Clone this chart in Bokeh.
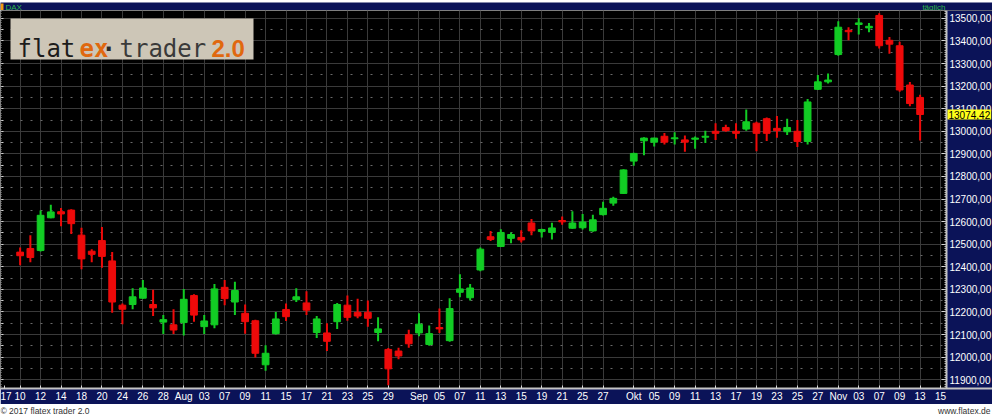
from bokeh.plotting import figure
from bokeh.models import ColumnDataSource, FixedTicker, Range1d, Label, BoxAnnotation, LinearAxis
from bokeh.layouts import column
from bokeh.embed import file_html
from bokeh.resources import INLINE

# ---------------- data (DAX daily candles) ----------------
dates = [
    "2017-07-10", "2017-07-11", "2017-07-12", "2017-07-13", "2017-07-14", "2017-07-17", "2017-07-18",
    "2017-07-19", "2017-07-20", "2017-07-21", "2017-07-24", "2017-07-25", "2017-07-26", "2017-07-27",
    "2017-07-28", "2017-07-31", "2017-08-01", "2017-08-02", "2017-08-03", "2017-08-04", "2017-08-07",
    "2017-08-08", "2017-08-09", "2017-08-10", "2017-08-11", "2017-08-14", "2017-08-15", "2017-08-16",
    "2017-08-17", "2017-08-18", "2017-08-21", "2017-08-22", "2017-08-23", "2017-08-24", "2017-08-25",
    "2017-08-28", "2017-08-29", "2017-08-30", "2017-08-31", "2017-09-01", "2017-09-04", "2017-09-05",
    "2017-09-06", "2017-09-07", "2017-09-08", "2017-09-11", "2017-09-12", "2017-09-13", "2017-09-14",
    "2017-09-15", "2017-09-18", "2017-09-19", "2017-09-20", "2017-09-21", "2017-09-22", "2017-09-25",
    "2017-09-26", "2017-09-27", "2017-09-28", "2017-09-29", "2017-10-02", "2017-10-04", "2017-10-05",
    "2017-10-06", "2017-10-09", "2017-10-10", "2017-10-11", "2017-10-12", "2017-10-13", "2017-10-16",
    "2017-10-17", "2017-10-18", "2017-10-19", "2017-10-20", "2017-10-23", "2017-10-24", "2017-10-25",
    "2017-10-26", "2017-10-27", "2017-10-30", "2017-11-01", "2017-11-02", "2017-11-03", "2017-11-06",
    "2017-11-07", "2017-11-08", "2017-11-09", "2017-11-10", "2017-11-13",
]
opens = [
    12465, 12481, 12472, 12617, 12644, 12651, 12540, 12469, 12516, 12426, 12230, 12233, 12261, 12233,
    12155, 12143, 12153, 12273, 12135, 12143, 12309, 12244, 12194, 12161, 11966, 12104, 12211, 12254,
    12240, 12109, 12107, 12157, 12230, 12198, 12198, 12109, 12034, 12027, 12099, 12107, 12056, 12131,
    12073, 12287, 12263, 12386, 12533, 12490, 12526, 12530, 12594, 12556, 12552, 12605, 12571, 12573,
    12559, 12631, 12682, 12725, 12868, 12958, 12952, 12978, 12967, 12962, 12965, 12974, 13000, 13017,
    13000, 13010, 13036, 13056, 13013, 12998, 13000, 12955, 13186, 13219, 13340, 13447, 13473, 13458,
    13513, 13403, 13379, 13205, 13150,
]
highs = [
    12485, 12540, 12649, 12675, 12660, 12655, 12573, 12478, 12576, 12465, 12237, 12305, 12342, 12298,
    12186, 12212, 12302, 12278, 12186, 12324, 12342, 12334, 12233, 12165, 12053, 12200, 12237, 12305,
    12292, 12182, 12150, 12240, 12273, 12259, 12251, 12176, 12040, 12042, 12121, 12194, 12140, 12215,
    12261, 12367, 12324, 12485, 12559, 12566, 12552, 12562, 12612, 12569, 12595, 12623, 12646, 12634,
    12631, 12688, 12710, 12832, 12905, 12974, 12972, 12993, 12996, 12981, 12977, 13003, 13036, 13029,
    13036, 13097, 13042, 13061, 13068, 13056, 13050, 13143, 13249, 13256, 13487, 13461, 13501, 13480,
    13523, 13418, 13397, 13218, 13162,
]
lows = [
    12407, 12420, 12468, 12615, 12579, 12545, 12389, 12420, 12396, 12196, 12146, 12212, 12259, 12182,
    12102, 12102, 12096, 12157, 12102, 12128, 12230, 12186, 12104, 11998, 11940, 12100, 12160, 12244,
    12186, 12085, 12027, 12125, 12161, 12172, 12135, 12070, 11875, 11991, 12042, 12092, 12050, 12107,
    12068, 12265, 12251, 12380, 12514, 12488, 12504, 12508, 12540, 12530, 12521, 12586, 12568, 12565,
    12555, 12627, 12670, 12722, 12848, 12894, 12933, 12942, 12942, 12909, 12923, 12948, 12962, 12998,
    12967, 13003, 12912, 12957, 12971, 12984, 12931, 12942, 13183, 13212, 13335, 13403, 13429, 13439,
    13367, 13343, 13175, 13111, 12959,
]
closes = [
    12449, 12441, 12628, 12643, 12634, 12591, 12435, 12455, 12446, 12244, 12212, 12267, 12306, 12218,
    12166, 12120, 12256, 12186, 12160, 12302, 12259, 12295, 12157, 12017, 12017, 12169, 12179, 12267,
    12208, 12169, 12070, 12233, 12176, 12182, 12172, 12125, 11948, 12005, 12059, 12146, 12104, 12125,
    12215, 12302, 12306, 12478, 12521, 12552, 12543, 12519, 12559, 12565, 12572, 12599, 12594, 12598,
    12608, 12659, 12703, 12829, 12902, 12970, 12970, 12952, 12971, 12952, 12970, 12978, 12991, 13003,
    12991, 13042, 12991, 12991, 13003, 13017, 12955, 13130, 13219, 13227, 13461, 13441, 13480, 13465,
    13379, 13386, 13183, 13123, 13074.42,
]
# trading days after the last candle that still appear on the time axis
future_dates = ["2017-11-14", "2017-11-15"]

year_label = "17"
x_tick_dates = [
    "2017-07-10", "2017-07-12", "2017-07-14", "2017-07-18", "2017-07-20", "2017-07-24", "2017-07-26",
    "2017-07-28", "2017-08-01", "2017-08-03", "2017-08-07", "2017-08-09", "2017-08-11", "2017-08-15",
    "2017-08-17", "2017-08-21", "2017-08-23", "2017-08-25", "2017-08-29", "2017-09-01", "2017-09-05",
    "2017-09-07", "2017-09-11", "2017-09-13", "2017-09-15", "2017-09-19", "2017-09-21", "2017-09-25",
    "2017-09-27", "2017-10-02", "2017-10-05", "2017-10-09", "2017-10-11", "2017-10-13", "2017-10-17",
    "2017-10-19", "2017-10-23", "2017-10-25", "2017-10-27", "2017-11-01", "2017-11-03", "2017-11-07",
    "2017-11-09", "2017-11-13", "2017-11-15",
]
x_tick_labels = [
    "10", "12", "14", "18", "20", "24", "26", "28", "Aug", "03", "07", "09", "11", "15", "17", "21",
    "23", "25", "29", "Sep", "05", "07", "11", "13", "15", "19", "21", "25", "27", "Okt", "05", "09",
    "11", "13", "17", "19", "23", "25", "27", "Nov", "03", "07", "09", "13", "15",
]
y_ticks = [11900, 12000, 12100, 12200, 12300, 12400, 12500, 12600, 12700, 12800, 12900,
           13000, 13100, 13200, 13300, 13400, 13500]
y_tick_labels = ["11900,00", "12000,00", "12100,00", "12200,00", "12300,00", "12400,00",
                 "12500,00", "12600,00", "12700,00", "12800,00", "12900,00", "13000,00",
                 "13100,00", "13200,00", "13300,00", "13400,00", "13500,00"]
instrument = "DAX"
period = "täglich"
copyright_text = "© 2017 flatex trader 2.0"
site_text = "www.flatex.de"

# ---------------- styling / layout ----------------
NAVY = "#0b1358"
GREEN = "#12cc24"
RED = "#ee0a0a"
GRID = "#3a3a3a"
AXIS_FONT = "'Liberation Sans', Arial, sans-serif"
TOTAL_W = 992
PLOT_W = 946          # width of the candle area; the rest is the price-axis column
FRAME_H = 378
HEAD_H = 10
FOOT_H = 10
X0, X1 = -1.92, 90.58  # visible slot range of the candle area
Y0, Y1 = 11861, 13535
X_END = X0 + (X1 - X0) * TOTAL_W / PLOT_W

axis_slots = dates + future_dates
idx = list(range(len(dates)))
colors = [GREEN if c >= o else RED for o, c in zip(opens, closes)]
src = ColumnDataSource(dict(
    x=idx, open=opens, high=highs, low=lows, close=closes,
    top=[max(o, c) for o, c in zip(opens, closes)],
    bottom=[min(o, c) for o, c in zip(opens, closes)],
    color=colors,
))

p = figure(frame_width=TOTAL_W, frame_height=FRAME_H, output_backend="svg", toolbar_location=None,
           x_range=Range1d(X0, X_END), y_range=Range1d(Y0, Y1),
           y_axis_location="right",
           background_fill_color="black", border_fill_color=NAVY, outline_line_color=None,
           min_border_left=0, min_border_right=0, min_border_top=0, min_border_bottom=14)

# grid
x_tick_pos = [axis_slots.index(d) for d in x_tick_dates]
p.xgrid.ticker = FixedTicker(ticks=x_tick_pos)
p.xgrid.grid_line_color = GRID
p.ygrid.ticker = FixedTicker(ticks=y_ticks, minor_ticks=list(range(11950, 13535, 100)))
p.ygrid.grid_line_color = GRID
p.ygrid.minor_grid_line_color = "#6a6a6a"
p.ygrid.minor_grid_line_dash = "2 8"

# price-axis column background
p.quad(left=[X1], right=[X_END], bottom=[Y0], top=[Y1], fill_color=NAVY, line_color=None)

# candles
p.segment(x0="x", y0="low", x1="x", y1="high", line_color="color", line_width=2, source=src)
p.vbar(x="x", width=0.66, top="top", bottom="bottom", fill_color="color", line_color="color",
       line_width=1, source=src)

# time axis
xa = p.xaxis[0]
xa.ticker = FixedTicker(ticks=[-1.5] + x_tick_pos)
overrides = {pos: lab for pos, lab in zip(x_tick_pos, x_tick_labels)}
overrides[-1.5] = year_label
xa.major_label_overrides = overrides
xa.major_label_text_color = "white"
xa.major_label_text_font = AXIS_FONT
xa.major_label_text_font_size = "10px"
xa.major_label_standoff = 2
xa.major_tick_in = 3
xa.major_tick_out = 0
xa.major_tick_line_color = "#d8d8d8"
xa.minor_tick_line_color = None
xa.axis_line_color = "#c4c4c4"
xa.axis_line_width = 2

# price axis, drawn at the edge of the candle area
ya = p.yaxis[0]
ya.fixed_location = X1
ya.ticker = FixedTicker(ticks=y_ticks, minor_ticks=list(range(11870, 13535, 10)))
ya.major_label_overrides = {t: l for t, l in zip(y_ticks, y_tick_labels)}
ya.major_label_text_color = "white"
ya.major_label_text_font = AXIS_FONT
ya.major_label_text_font_size = "10px"
ya.major_label_standoff = 3
ya.major_tick_in = 5
ya.major_tick_out = 0
ya.minor_tick_in = 2
ya.minor_tick_out = 0
ya.major_tick_line_color = "#d8d8d8"
ya.minor_tick_line_color = "#bdbdbd"
ya.axis_line_color = "#c4c4c4"
ya.axis_line_width = 2

# ruler on the left edge (ticks only)
ruler = LinearAxis(fixed_location=X0,
                   ticker=FixedTicker(ticks=list(range(11900, 13535, 50)),
                                      minor_ticks=list(range(11870, 13535, 10))),
                   major_label_text_alpha=0, major_label_text_font_size="1px",
                   axis_line_color=None, major_tick_in=3, major_tick_out=0,
                   minor_tick_in=1, minor_tick_out=0,
                   major_tick_line_color="#d0d0d0", minor_tick_line_color="#9a9a9a")
p.add_layout(ruler, "left")

# logo box
p.add_layout(BoxAnnotation(left=10, right=253, top=FRAME_H - 8, bottom=FRAME_H - 49,
                           left_units="screen", right_units="screen",
                           top_units="screen", bottom_units="screen",
                           fill_color="#cdc6b7", fill_alpha=1.0, line_color=None))
logo_parts = [("flat", 17, "#1c1c1c", "normal", "'DejaVu Sans Mono'", "24px"),
              ("ex", 79, "#e0680f", "bold", "'DejaVu Sans Mono'", "24px"),
              ("·", 101, "#2a2a2a", "bold", "'DejaVu Sans Mono'", "24px"),
              ("trader", 119, "#3a3a3a", "normal", "'DejaVu Sans Mono'", "24px"),
              ("2.0", 211, "#e0680f", "bold", "'Liberation Sans'", "24px")]
for txt, lx, col, wt, fnt, fs in logo_parts:
    p.add_layout(Label(x=lx, y=FRAME_H - 38, x_units="screen", y_units="screen", text=txt,
                       text_color=col, text_font_style=wt, text_font=fnt, text_font_size=fs,
                       text_baseline="alphabetic"))

# last price marker on the price axis
last_txt = f"{closes[-1]:.2f}".replace(".", ",")
p.add_layout(Label(x=X1, y=closes[-1], x_offset=1, text=last_txt,
                   text_color="black", text_font=AXIS_FONT, text_font_size="10px",
                   text_baseline="middle", text_align="left",
                   background_fill_color="#ffff1a", padding=1))

# header bar
head = figure(width=TOTAL_W, height=HEAD_H, output_backend="svg", toolbar_location=None,
              x_axis_type=None, y_axis_type=None, x_range=Range1d(0, 1), y_range=Range1d(0, 1),
              background_fill_color=NAVY, border_fill_color=NAVY, outline_line_color=None,
              min_border=0)
head.xgrid.visible = False
head.ygrid.visible = False
head.add_layout(BoxAnnotation(left=0, right=3, bottom=1, top=9, left_units="screen",
                              right_units="screen", top_units="screen", bottom_units="screen",
                              fill_color="#f39a12", fill_alpha=1.0, line_color=None))
head.add_layout(Label(x=5, y=1, x_units="screen", y_units="screen", text=instrument,
                      text_color="#2fb84a", text_font=AXIS_FONT, text_font_size="8px",
                      text_baseline="bottom"))
head.add_layout(Label(x=PLOT_W - 1, y=1, x_units="screen", y_units="screen", text=period,
                      text_color="#2fb84a", text_font=AXIS_FONT, text_font_size="8px",
                      text_baseline="bottom", text_align="right"))

# footer
foot = figure(width=TOTAL_W, height=FOOT_H, output_backend="svg", toolbar_location=None,
              x_axis_type=None, y_axis_type=None, x_range=Range1d(0, 1), y_range=Range1d(0, 1),
              background_fill_color="white", border_fill_color="white", outline_line_color=None,
              min_border=0)
foot.xgrid.visible = False
foot.ygrid.visible = False
foot.add_layout(Label(x=0, y=1, x_units="screen", y_units="screen", text=copyright_text,
                      text_color="#333333", text_font="'Liberation Sans'", text_font_size="8.5px",
                      text_baseline="bottom"))
foot.add_layout(Label(x=TOTAL_W - 2, y=1, x_units="screen", y_units="screen", text=site_text,
                      text_color="#333333", text_font="'Liberation Sans'", text_font_size="8.5px",
                      text_baseline="bottom", text_align="right"))

layout = column(head, p, foot, spacing=0)
open("out.html", "w").write(file_html(layout, INLINE))
